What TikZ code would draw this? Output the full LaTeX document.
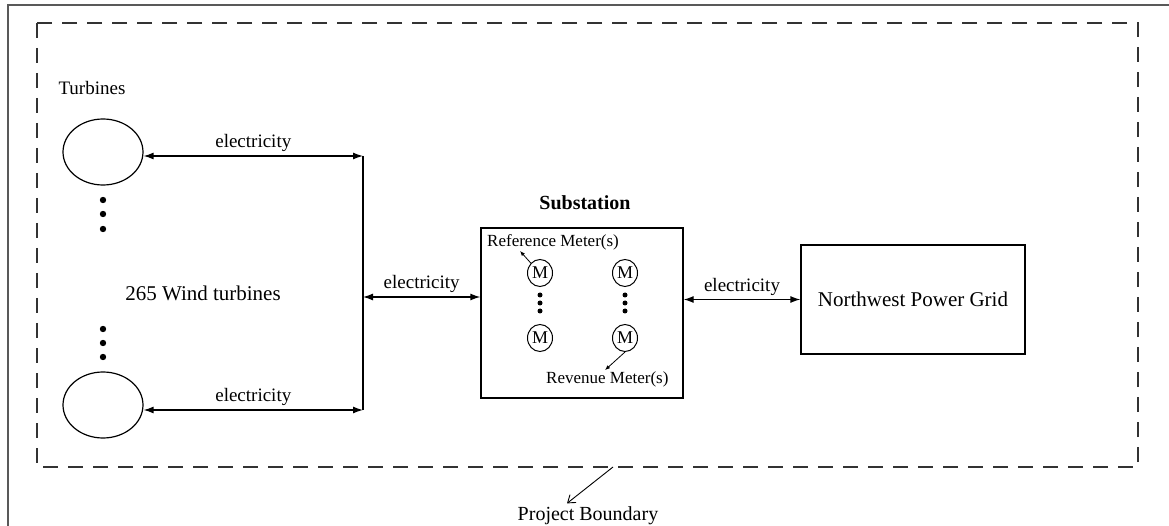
\documentclass[tikz,border=0pt]{standalone}
\usepackage{fontspec}
\setmainfont{Liberation Serif}
\usetikzlibrary{arrows.meta,positioning,shapes.geometric}

\tikzset{
    lbl/.style={font=\fontsize{19}{22}\selectfont},
    small/.style={font=\fontsize{17}{20}\selectfont, inner sep=1pt},
    turbine/.style={ellipse, draw, line width=1.2pt, minimum width=80pt, minimum height=66pt, inner sep=0pt},
    meter/.style={ellipse, draw, line width=1pt, minimum width=25pt, minimum height=27pt, inner sep=0pt, font=\fontsize{18}{20}\selectfont},
    flow/.style={line width=1.3pt, {Latex[length=10pt,width=7pt]}-{Latex[length=10pt,width=7pt]}},
    pointer/.style={line width=0.8pt, -{Latex[length=5pt,width=4pt]}},
    boundary/.style={line width=1.3pt, black!80, dash pattern=on 15pt off 10pt}
}

\begin{document}
\begin{tikzpicture}[x=1pt,y=-1pt]
    \useasboundingbox (0,0) rectangle (1169,526);
    \draw[line width=2pt, black!65] (8,526) -- (8,5) -- (1169,5);
    \draw[boundary] (37,23) rectangle (1138,467);

    % turbines
    \node[lbl, anchor=west] (turbTitle) at (55,88) {Turbines};
    \node[turbine] (turbA) at (103,152) {};
    \node[turbine] (turbB) at (103,405) {};
    \foreach \y in {200,214,229,329,343,357}
        \fill (103,\y) circle (3.2);
    \node[font=\fontsize{21}{24}\selectfont] (turbCount) at (203,293) {265 Wind turbines};

    \coordinate (busTop) at (363,156);
    \coordinate (busMid) at (363,297);
    \coordinate (busBot) at (363,410);
    \draw[line width=1.3pt] (busTop) -- (busBot);
    \draw[flow] (turbA.east |- busTop) -- (busTop) node[midway, above, lbl] {electricity};
    \draw[flow] (turbB.east |- busBot) -- (busBot) node[midway, above, lbl] {electricity};

    % substation
    \node[draw, line width=1.3pt, minimum width=202pt, minimum height=170pt] (sub) at (582,313) {};
    \node[font=\fontsize{20}{24}\selectfont\bfseries] (subTitle) at (585,203) {Substation};
    \draw[flow] (busMid) -- (sub.west |- busMid) node[midway, above, lbl] {electricity};

    \node[meter] (mA) at (540,273) {M};
    \node[meter] (mB) at (625,273) {M};
    \node[meter] (mC) at (540,338) {M};
    \node[meter] (mD) at (625,338) {M};
    \foreach \x in {540,625}
        \foreach \y in {295,303,311}
            \fill (\x,\y) circle (2.5);
    \node[small, anchor=west] (refLbl) at (486,242) {Reference Meter(s)};
    \node[small, anchor=west] (revLbl) at (545,379) {Revenue Meter(s)};
    \draw[pointer] (mA.north west) -- ([xshift=34pt]refLbl.south west);
    \draw[pointer] (mD.south) -- ([xshift=60pt]revLbl.north west);

    % grid
    \node[draw, line width=1.3pt, minimum width=224pt, minimum height=109pt, font=\fontsize{21}{24}\selectfont] (grid) at (913,299.5) {Northwest Power Grid};
    \draw[flow] (sub.east |- grid.west) -- (grid.west) node[midway, above, lbl] {electricity};

    % boundary label
    \node[font=\fontsize{20}{24}\selectfont] (pbLbl) at (588,516) {Project Boundary};
    \coordinate (pbPoint) at (613,467);
    \draw[line width=0.9pt, -{Straight Barb[length=7pt,width=10pt]}] (pbPoint) -- ([xshift=-21pt]pbLbl.north);
\end{tikzpicture}
\end{document}
